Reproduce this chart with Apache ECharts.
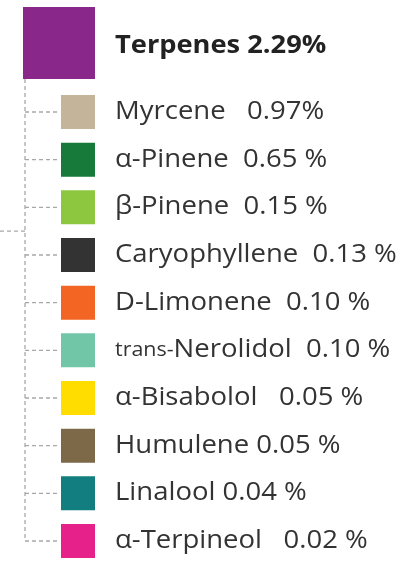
<!DOCTYPE html>
<html><head><meta charset="utf-8">
<script src="https://cdn.jsdelivr.net/npm/echarts@6/dist/echarts.min.js"></script>
<style>html,body{margin:0;padding:0;background:#fff}#c{width:408px;height:561px}</style>
</head><body><div id="c"></div>
<script>
const rootName = 'Terpenes';
const rootValue = '2.29%';
const rootColor = '#8A278A';
const names = ['Myrcene','α-Pinene','β-Pinene','Caryophyllene','D-Limonene','trans-Nerolidol','α-Bisabolol','Humulene','Linalool','α-Terpineol'];
const values = ['0.97%','0.65 %','0.15 %','0.13 %','0.10 %','0.10 %','0.05 %','0.05 %','0.04 %','0.02 %'];
const gaps = [3,2,2,2,2,2,3,1,1,3];
const colors = ['#C4B59A','#177A3A','#8DC63F','#333333','#F26522','#72C6A8','#FFDD00','#7D6848','#137E7F','#E6218A'];

const L = {trunkX:25, branchEnd:58, sqX:61, sq:34, textX:115, rootX:23, rootSize:72, rootOffset:1.45, linkRow:3.5, line:'#a8a8a8', stretch:1.1};
const FONT = '"Open Sans", "Noto Sans", sans-serif';

const chart = echarts.init(document.getElementById('c'), null, {renderer:'canvas'});
const data = names.map((n,i)=>[0, i+1]);
const dash = {stroke:L.line, lineWidth:1.3, lineDash:[4,3]};

chart.setOption({
  animation:false,
  grid:{left:0,right:0,top:16.67,bottom:20},
  xAxis:{type:'value',min:0,max:408,show:false},
  yAxis:{type:'value',min:-1,max:10,inverse:true,show:false},
  series:[{
    type:'custom',
    clip:false,
    data:data,
    renderItem:function(params, api){
      const i = params.dataIndex;
      const idx = api.value(1);
      const p = api.coord([0, idx]);
      const yc = p[1];
      const rowH = api.size([0,1])[1];
      const children = [];
      children.push({type:'line',shape:{x1:L.trunkX,y1:yc,x2:L.branchEnd,y2:yc},style:dash});
      children.push({type:'rect',shape:{x:L.sqX,y:yc-L.sq/2,width:L.sq,height:L.sq},style:{fill:colors[i]}});
      let name = names[i];
      let txt;
      const m = name.match(/^([a-z]+-)(.*)$/);
      const sp = ' '.repeat(gaps[i]);
      if(m){ txt = '{s|'+m[1]+'}{n|'+m[2]+sp+values[i]+'}'; }
      else { txt = '{n|'+name+sp+values[i]+'}'; }
      children.push({type:'text',x:L.textX,y:yc,scaleX:L.stretch,style:{text:txt,verticalAlign:'middle',align:'left',
        rich:{n:{fontFamily:FONT,fontSize:25,fill:'#333',fontWeight:'normal'},s:{fontFamily:FONT,fontSize:19.5,fill:'#333'}}}});
      if(i===0){
        const first = api.coord([0,1])[1];
        const last = api.coord([0,names.length])[1];
        const rc = first - L.rootOffset*rowH;
        children.push({type:'rect',shape:{x:L.rootX,y:rc-L.rootSize/2,width:L.rootSize,height:L.rootSize},style:{fill:rootColor}});
        children.push({type:'line',shape:{x1:L.trunkX,y1:rc+L.rootSize/2,x2:L.trunkX,y2:last},style:dash});
        const ly = api.coord([0,L.linkRow])[1];
        children.push({type:'line',shape:{x1:0,y1:ly,x2:L.trunkX,y2:ly},style:dash});
        children.push({type:'text',x:L.textX,y:rc+3,scaleX:1.09,style:{text:rootName+' '+rootValue,verticalAlign:'middle',align:'left',
          fontFamily:FONT,fontSize:25,fontWeight:'bold',fill:'#222'}});
      }
      return {type:'group',children:children};
    }
  }]
});
</script></body></html>
